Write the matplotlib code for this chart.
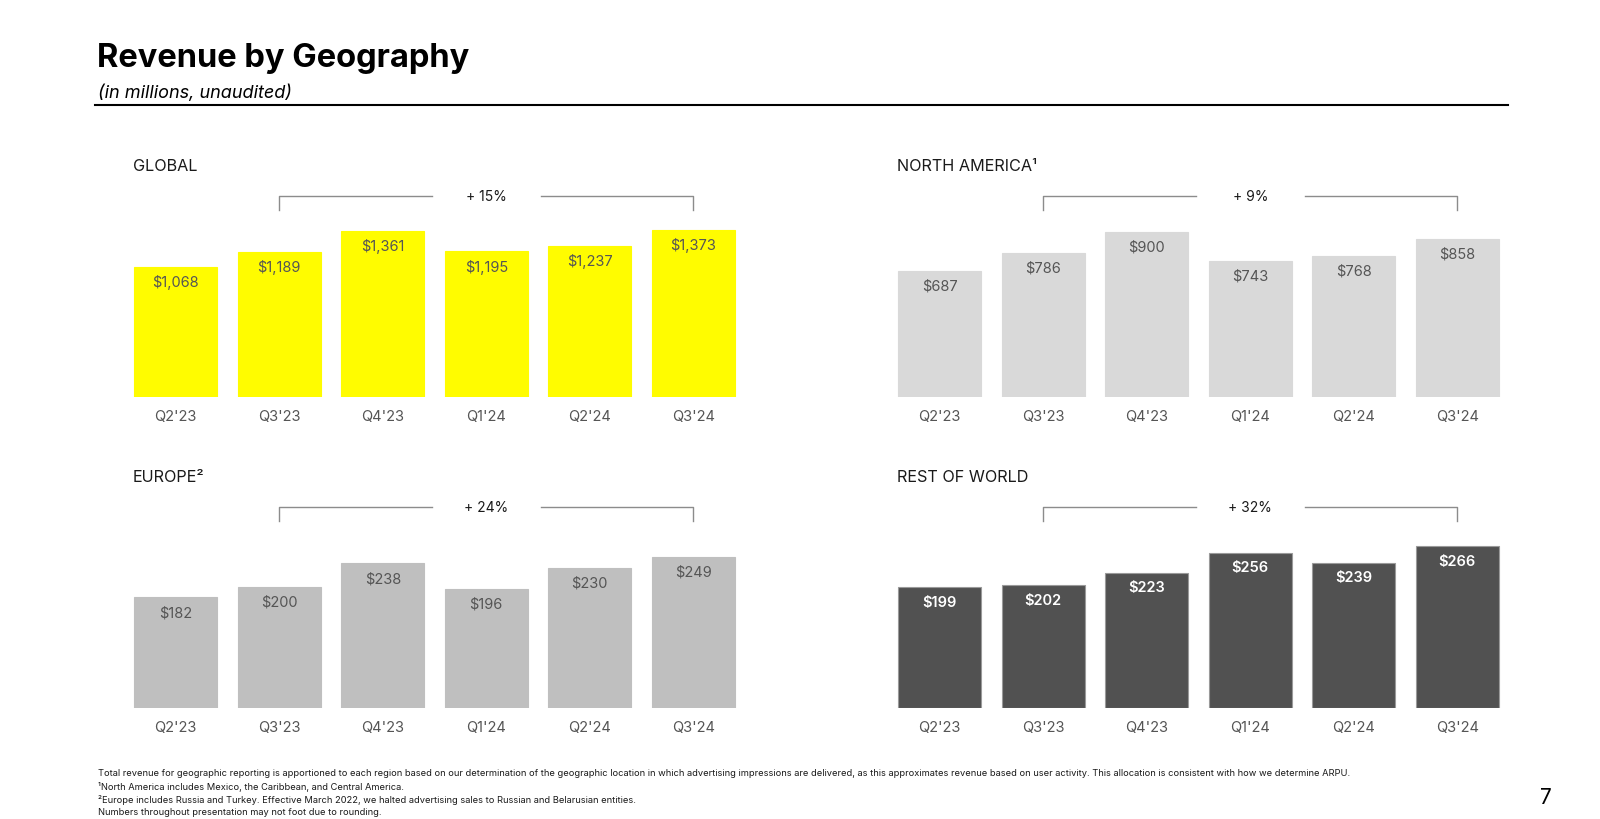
import matplotlib
matplotlib.use('Agg')
import matplotlib.pyplot as plt
from matplotlib import transforms

plt.rcParams['font.family'] = ['Inter', 'DejaVu Sans']

# --- datos ---
quarters = ["Q2'23", "Q3'23", "Q4'23", "Q1'24", "Q2'24", "Q3'24"]
global_rev = [1068, 1189, 1361, 1195, 1237, 1373]
na_rev = [687, 786, 900, 743, 768, 858]
europe_rev = [182, 200, 238, 196, 230, 249]
row_rev = [199, 202, 223, 256, 239, 266]
growth = ['+ 15%', '+ 9%', '+ 24%', '+ 32%']
titles = ['GLOBAL', 'NORTH AMERICA¹', 'EUROPE²', 'REST OF WORLD']

footnotes = [
    'Total revenue for geographic reporting is apportioned to each region based on our determination of the geographic '
    'location in which advertising impressions are delivered, as this approximates revenue based on user activity. '
    'This allocation is consistent with how we determine ARPU.',
    '¹North America includes Mexico, the Caribbean, and Central America.',
    '²Europe includes Russia and Turkey. Effective March 2022, we halted advertising sales to Russian and Belarusian entities.',
    'Numbers throughout presentation may not foot due to rounding.',
]

W, H = 1600, 820
fig = plt.figure(figsize=(16, 8.2), dpi=100)


def fx(px):
    return px / W


def fy(py):
    return 1 - py / H


# titulo
fig.text(fx(97), fy(58), 'Revenue by Geography', fontsize=23.5, fontweight='bold',
         color='black', va='center', ha='left')
fig.text(fx(98), fy(93), '(in millions, unaudited)', fontsize=13, style='italic',
         color='black', va='center', ha='left')
fig.add_artist(plt.Line2D([fx(95), fx(1508)], [fy(106), fy(106)], color='black', lw=1.5))

# paneles: (datos, color barra, color texto, peso, izquierda px, base px, ymax)
panels = [
    (global_rev, '#FFFC00', '#555555', 'normal', 124, 398, 1626),
    (na_rev, '#D9D9D9', '#555555', 'normal', 888, 398, 1078),
    (europe_rev, '#BFBFBF', '#555555', 'normal', 124, 709, 326),
    (row_rev, '#515151', 'white', 'semibold', 888, 709, 326),
]

AX_W, AX_H = 621, 198

for i, (vals, col, tcol, tw, left, base, ymax) in enumerate(panels):
    ax = fig.add_axes([fx(left), fy(base), fx(AX_W), AX_H / H])
    x = range(len(quarters))
    edge = '#9a9a9a' if i == 3 else col
    bars = ax.bar(x, vals, width=0.8, color=col, edgecolor=edge, linewidth=0.8)
    ax.set_xlim(-0.5, 5.5)
    ax.set_ylim(0, ymax)
    for s in ax.spines.values():
        s.set_visible(False)
    ax.set_yticks([])
    ax.set_xticks(list(x))
    ax.set_xticklabels(quarters, fontsize=10.5, color='#555555')
    ax.tick_params(axis='x', length=0, pad=9)

    for b, v in zip(bars, vals):
        ax.annotate(f'${v:,}', (b.get_x() + b.get_width() / 2, v),
                    xytext=(0, -10.5), textcoords='offset points',
                    ha='center', va='center', fontsize=10.5, color=tcol, fontweight=tw)

    # titulo del panel
    fig.text(fx(left + 9), fy(base - 231), titles[i], fontsize=11.7, color='#1a1a1a',
             va='center', ha='left')

    # corchete de crecimiento
    tr = transforms.blended_transform_factory(ax.transData, fig.transFigure)
    ytop = fy(base - 201)
    ybot = fy(base - 187)
    kw = dict(color='#8c8c8c', lw=1.0, transform=tr, clip_on=False)
    ax.plot([1, 1, 2.48], [ybot, ytop, ytop], **kw)
    ax.plot([3.53, 5, 5], [ytop, ytop, ybot], **kw)
    ax.text(3.0, ytop, growth[i], transform=tr, ha='center', va='center',
            fontsize=10, color='#1a1a1a')

# notas al pie
for k, line in enumerate(footnotes):
    fig.text(fx(98), fy(774 + 13 * k), line, fontsize=6.7, color='#1a1a1a',
             va='center', ha='left')

fig.text(fx(1546), fy(798), '7', fontsize=15, color='black', va='center', ha='center')

fig.savefig('out.png', dpi=100, facecolor='white')
